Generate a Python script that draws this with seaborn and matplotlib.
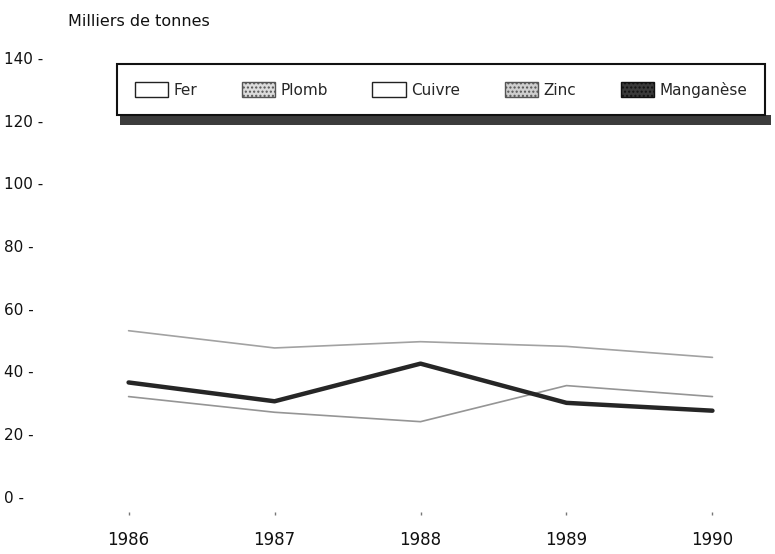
import matplotlib
matplotlib.use("Agg")
import matplotlib.pyplot as plt
import matplotlib.patches as mpatches
import pandas as pd
import seaborn as sns

# valeurs (milliers de tonnes)
annees = [1986, 1987, 1988, 1989, 1990]
plomb = [53, 47.5, 49.5, 48, 44.5]
zinc = [32, 27, 24, 35.5, 32]
manganese = [36.5, 30.5, 42.5, 30, 27.5]

legende_labels = ["Fer", "Plomb", "Cuivre", "Zinc", "Manganèse"]
y_ticks = [0, 20, 40, 60, 80, 100, 120, 140]

df = pd.DataFrame({
    "annee": annees * 3,
    "valeur": plomb + zinc + manganese,
    "metal": ["Plomb"] * 5 + ["Zinc"] * 5 + ["Manganèse"] * 5,
})

sns.set_theme(style="white")
plt.rcParams["font.family"] = ["DejaVu Sans"]

fig = plt.figure(figsize=(7.75, 5.54), dpi=100)
ax = fig.add_axes([0.0774, 0.0758, 0.9097, 0.834])

styles = {
    "Plomb": dict(color="#a2a2a2", lw=1.2),
    "Zinc": dict(color="#959595", lw=1.2),
    "Manganèse": dict(color="#262626", lw=3.2),
}
for metal, st in styles.items():
    sub = df[df["metal"] == metal]
    sns.lineplot(data=sub, x="annee", y="valeur", ax=ax, color=st["color"],
                 linewidth=st["lw"], legend=False)

ax.set_xlim(1985.53, 1990.36)
ax.set_ylim(-4.8, 142.5)
ax.set_xlabel("")
ax.set_ylabel("")
for s in ax.spines.values():
    s.set_visible(False)

ax.set_xticks(annees)
ax.set_xticklabels([str(a) for a in annees], fontsize=12, color="#111111")
ax.tick_params(axis="x", bottom=True, length=2.5, width=1, color="#777777", pad=11)

ax.set_yticks(y_ticks)
ax.set_yticklabels([f"{v} -" for v in y_ticks], fontsize=11, color="#111111")
ax.tick_params(axis="y", left=False, length=0, pad=40)
for lbl in ax.get_yticklabels():
    lbl.set_horizontalalignment("left")

fig.text(68 / 775, 1 - 21 / 554, "Milliers de tonnes", fontsize=11.5,
         va="center", ha="left", color="#111111")

handles = [
    mpatches.Patch(facecolor="white", edgecolor="#222222", linewidth=1),
    mpatches.Patch(facecolor="#dcdcdc", edgecolor="#555555", hatch="....", linewidth=1),
    mpatches.Patch(facecolor="white", edgecolor="#222222", linewidth=1),
    mpatches.Patch(facecolor="#cfcfcf", edgecolor="#555555", hatch="....", linewidth=1),
    mpatches.Patch(facecolor="#3a3a3a", edgecolor="#111111", hatch="....", linewidth=1),
]
leg = fig.legend(handles, legende_labels, loc="upper left",
                 bbox_to_anchor=(117 / 775, 1 - 64 / 554), ncol=5,
                 fontsize=11, frameon=True, fancybox=False, framealpha=1,
                 edgecolor="#111111", handlelength=2.2, handleheight=1.2,
                 handletextpad=0.35, columnspacing=2.9, borderpad=1.15,
                 borderaxespad=0)
leg.get_frame().set_linewidth(1.5)

# bande sombre sous la légende
fig.canvas.draw()
bb = leg.get_window_extent().transformed(fig.transFigure.inverted())
shadow = mpatches.Rectangle((bb.x0 + 0.004, bb.y0 - 0.018), bb.width + 0.004, 0.018,
                            transform=fig.transFigure, facecolor="#3c3c3c",
                            edgecolor="none", hatch="....", zorder=0)
fig.patches.append(shadow)

fig.savefig("out.png", dpi=100)
